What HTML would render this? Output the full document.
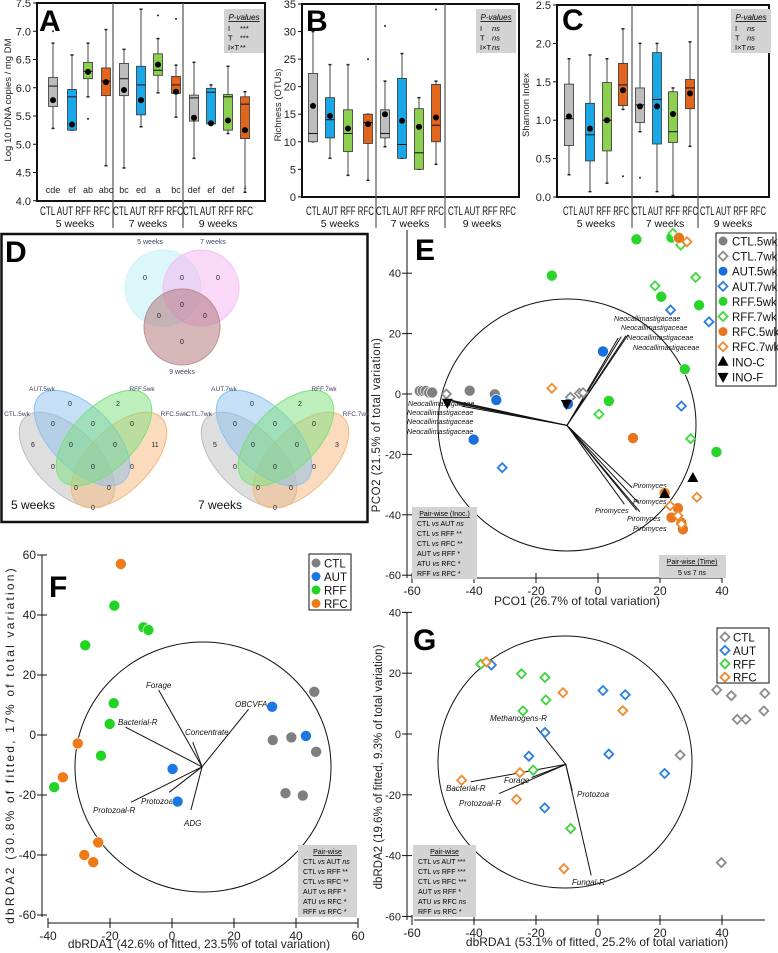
<!DOCTYPE html>
<html><head><meta charset="utf-8"><style>
body{margin:0;background:#fff}
svg{display:block;font-family:"Liberation Sans",Arial,sans-serif}
</style></head><body>
<svg id="fig" width="778" height="953" viewBox="0 0 778 953" xmlns="http://www.w3.org/2000/svg"></svg>
<script>
// ===== Panel A data =====
const boxCats = ['CTL','AUT','RFF','RFC'];
const weeks = ['5 weeks','7 weeks','9 weeks'];
const aTicks = [7.5,7.0,6.5,6.0,5.5,5.0,4.5,4.0];
// [low, q1, median, q3, high, mean]
const aStats = [
 [5.28,5.67,6.03,6.18,6.79,5.78],[5.25,5.25,5.84,5.97,6.58,5.35],[5.84,6.16,6.29,6.45,6.79,6.28],[4.62,5.86,6.12,6.35,7.03,6.10],
 [4.58,5.86,6.16,6.43,6.68,5.96],[5.31,5.52,6.05,6.38,7.39,5.78],[5.91,6.22,6.31,6.60,6.87,6.41],[5.48,5.90,6.05,6.20,6.40,5.93],
 [4.75,5.41,5.82,5.87,6.45,5.47],[5.36,5.36,5.92,5.99,6.05,5.37],[5.19,5.25,5.84,5.88,6.38,5.42],[4.15,5.10,5.71,5.84,5.93,5.25]];
const aOutliers = [[7.0],[],[5.45],[],[],[],[7.28],[7.22],[],[],[],[]];
const aLetters = ['cde','ef','ab','abc','bc','ed','a','bc','def','ef','def','f'];
// ===== Panel B data =====
const bTicks = [35,30,25,20,15,10,5,0];
const bStats = [
 [10,10,11.5,22.4,30,16.5],[7,10.7,14,18,24,14.7],[3.9,8.2,11.5,15.8,24,12.4],[3,9.7,13.5,15,15,13.2],
 [9.1,10.7,11.5,15.8,21,15],[7,7,9.5,21.5,26,13.8],[5,5,8,16,18,12.7],[5.9,10,13,20.4,21,14.4]];
const bOutliers = [[],[],[],[25],[31],[],[],[34]];
// ===== Panel C data =====
const cTicks = [2.5,2.0,1.5,1.0,0.5,0.0];
const cStats = [
 [0.29,0.67,1.02,1.47,1.80,1.05],[0.07,0.47,0.81,1.22,1.85,0.89],[0.18,0.60,1.00,1.49,1.80,1.00],[1.14,1.19,1.46,1.74,2.19,1.39],
 [0.85,0.97,1.20,1.42,2.00,1.18],[0.07,0.69,1.27,1.88,2.00,1.18],[0.02,0.71,0.85,1.37,1.42,1.08],[0.66,1.15,1.42,1.53,2.02,1.35]];
const cOutliers = [[],[],[],[0.27],[0.25],[],[],[2.5]];
// ===== Panel E data =====
const eGroups = ['CTL.5wk','CTL.7wk','AUT.5wk','AUT.7wk','RFF.5wk','RFF.7wk','RFC.5wk','RFC.7wk','INO-C','INO-F'];
const eX = [
 [-57.5,-56.5,-55.5,-54.5,-53.5,-41.4,-33.3],
 [-48.9,-8.9,-6,-4.8],
 [1.6,-32.8,-40.1,-9.7],
 [-30.9,23.4,35.8,26.9],
 [-14.9,12.4,23.7,20.4,32.6,28,3.5,38.2],
 [24.2,26.7,31.5,18.4,0.3,29.9],
 [26.1,11.3,21.5,25.8,23.7,26.9,27.4],
 [28.7,-14.9,31.9,23.3,25.8,26.9],
 [30.6,21.5],
 [-48.6,-10.2]];
const eY = [
 [1,1,1,0.5,0.5,1.1,-0.1],
 [0,-1.1,0.2,0.4],
 [14.1,-2,-15.1,-3.3],
 [-24.4,27.8,23.9,-4],
 [39.2,51.2,51.8,32.2,29.4,8.2,-2.3,-19.2],
 [53.2,49.3,38.6,35.8,-6.7,-14.8],
 [51.7,-14.6,-32.8,-37.8,-40.9,-42.6,-44.8],
 [50.4,1.9,-34.2,-37,-40.3,-43.1],
 [-27.8,-33.1],
 [-2.9,-3.3]];
const eTicks = [-60,-40,-20,0,20,40];
const eVecEndX = [6.5,7.5,9,9.7,-49,-47,-45.5,-44,11,13,12.5,8.5,13.5];
const eVecEndY = [18.5,19,19.3,19.6,-1.7,-2.5,-3.2,-4,-31,-36,-38.5,-36.5,-39];
// ===== Panel F data =====
const fGroups = ['CTL','AUT','RFF','RFC'];
const fX = [[45.9,32.5,38.5,46.5,36.6,42.2],[32.3,43.2,0.2,1.8],[-18.6,-9.2,-7.6,-28,-18.8,-20.1,-22.9,-38],[-16.5,-30.4,-35.2,-23.8,-28.3,-25.4]];
const fY = [[14.4,-1.7,-0.8,-5.6,-19.4,-20.2],[9.4,-0.3,-11.3,-22.2],[43.1,35.9,35,29.9,10.6,3.7,-6.9,-17.4],[57,-2.8,-14.1,-35.8,-40,-42.4]];
const fXTicks = [-40,-20,0,20,40,60];
const fYTicks = [60,40,20,0,-20,-40,-60];
const fVecNames = ['Forage','Bacterial-R','Concentrate','OBCVFA','Protozoal-R','Protozoa','ADG'];
const fVecX = [-4.3,-15,6.7,24.7,-13.2,-0.9,6.1];
const fVecY = [15,2.6,-2.4,8.6,-22.4,-19.1,-25];
// ===== Panel G data =====
const gX = [[38.3,43,53.8,44.9,47.7,53.5,26.5,39.8],[-34.4,1.6,8.8,-17.1,-22.3,3.5,21.5,-17.2],[-37.8,-24.7,-17.1,-16.8,-24.2,-20.9,-8.8],[-36,-11.3,8,-44,-25.2,-26.3,-11]];
const gY = [[14.5,12.6,13.4,4.8,4.8,7.6,-6.9,-42.3],[22.7,14.3,12.9,0.5,-7.3,-6.6,-13,-24.3],[23,19.8,18.6,11.2,7.6,-11.9,-31.1],[23.7,13.6,7.7,-15.2,-12.7,-21.5,-44.3]];
const gXTicks = [-60,-40,-20,0,20,40];
const gYTicks = [40,20,0,-20,-40,-60];
const gVecNames = ['Methanogens-R','Bacterial-R','Forage','Protozoal-R','Protozoa','Fungal-R'];
const gVecX = [-19.9,-41,-21.4,-31.9,-8.3,-2.2];
const gVecY = [2.2,-15.7,-14.3,-19.6,-18.7,-46.5];

const NS='http://www.w3.org/2000/svg';
const svg=document.getElementById('fig');
function el(tag,attrs,parent,text){const e=document.createElementNS(NS,tag);for(const k in attrs)e.setAttribute(k,attrs[k]);if(text!==undefined)e.textContent=text;(parent||svg).appendChild(e);return e;}
function txt(x,y,s,size,opt,parent){opt=opt||{};const a={x:x,y:y,'font-size':size,fill:opt.fill||'#000'};if(opt.anchor)a['text-anchor']=opt.anchor;if(opt.weight)a['font-weight']=opt.weight;if(opt.style)a['font-style']=opt.style;if(opt.transform)a.transform=opt.transform;if(opt.ls)a['letter-spacing']=opt.ls;if(opt.deco)a['text-decoration']=opt.deco;if(opt.tl){a.textLength=opt.tl;a.lengthAdjust='spacingAndGlyphs';}return el('text',a,parent,s);}
const boxColors=['#bdbdbd','#1aa7e8','#8dcf4e','#e2651d'];

// ===== Box panels =====
function boxPanel(cfg){
 const g=el('g',{});
 
 
 const yS=v=>cfg.y0+(cfg.vmax-v)*cfg.k;
 el('rect',{x:cfg.x0,y:cfg.top,width:cfg.x1-cfg.x0,height:cfg.bot-cfg.top,fill:'none',stroke:'#111','stroke-width':2},g);
 cfg.ticks.forEach(t=>{const y=yS(t);el('line',{x1:cfg.x0-4,x2:cfg.x0,y1:y,y2:y,stroke:'#111'},g);
  const tl=txt(cfg.x0-6,y+4,cfg.fmt(t),11,{anchor:'end',fill:'#222'},g);
  });
 const yt=txt(cfg.ytx,cfg.yty,cfg.ytitle,9.5,{anchor:'middle',transform:`rotate(-90 ${cfg.ytx} ${cfg.yty})`,fill:'#222'},g);
 
 cfg.dividers.forEach(d=>el('line',{x1:d,x2:d,y1:cfg.top,y2:228,stroke:'#555','stroke-width':1.2},g));
 cfg.stats.forEach((s,i)=>{
  const cx=cfg.xs[i],w=9,col=boxColors[i%4];
  const bg=el('g',{},g);
  
  
  el('line',{x1:cx,x2:cx,y1:yS(s[4]),y2:yS(s[0]),stroke:'#444','stroke-width':1},bg);
  el('line',{x1:cx-1.5,x2:cx+1.5,y1:yS(s[4]),y2:yS(s[4]),stroke:'#222','stroke-width':1.5},bg);
  el('line',{x1:cx-1.5,x2:cx+1.5,y1:yS(s[0]),y2:yS(s[0]),stroke:'#222','stroke-width':1.5},bg);
  el('rect',{x:cx-w/2,y:yS(s[3]),width:w,height:Math.max(0.5,yS(s[1])-yS(s[3])),fill:col,stroke:'#333','stroke-width':0.8},bg);
  el('line',{x1:cx-w/2,x2:cx+w/2,y1:yS(s[2]),y2:yS(s[2]),stroke:'#111','stroke-width':1},bg);
  el('circle',{cx:cx,cy:yS(s[5]),r:3,fill:'#000'},bg);
  (cfg.outliers[i]||[]).forEach(o=>el('circle',{cx:cx,cy:yS(o),r:1,fill:'#222'},bg));
  if(cfg.letters){txt(cx,193,cfg.letters[i],9,{anchor:'middle',fill:'#222'},bg);}
 });
 cfg.groupCenters.forEach((gc,i)=>{
  const l1=txt(gc-cfg.gw/2,215,'CTL AUT RFF RFC',11.5,{fill:'#111',tl:cfg.gw},g);
  
  const l2=txt(gc,227,weeks[i],10.5,{anchor:'middle',fill:'#111'},g);
  
 });
 const pl=el('g',{},g);
 
 
 el('rect',{x:cfg.px,y:9,width:40,height:44,fill:'#d3d3d3'},pl);
 txt(cfg.px+20,20,'P-values',8,{anchor:'middle',style:'italic',deco:'underline'},pl);
 cfg.pv.forEach((p,j)=>{txt(cfg.px+4,31+j*9.5,p[0],7.5,{},pl);txt(cfg.px+16,31+j*9.5,p[1],7.5,{style:p[1]==='ns'?'italic':'normal'},pl);});
 txt(cfg.lx,cfg.ly,cfg.letter,30,{weight:'bold'},g);
}
boxPanel({name:'panel-a',x0:37,x1:265,top:3,bot:201,y0:3,vmax:7.5,k:56.5,ticks:aTicks,fmt:t=>t.toFixed(1),
 ytitle:'Log 10 rDNA copies / mg DM',ytx:11,yty:100,dividers:[113,183],stats:aStats,outliers:aOutliers,letters:aLetters,
 xs:[53,72,88,106,124,141,158,176,194,211,228,245],groupCenters:[75,148,218],gw:70,px:224,pv:[['I','***'],['T','***'],['I×T','**']],letter:'A',lx:39,ly:31});
boxPanel({name:'panel-b',x0:302,x1:519,top:4,bot:197,y0:4,vmax:35,k:5.51,ticks:bTicks,fmt:t=>String(t),
 ytitle:'Richness (OTUs)',ytx:281,yty:105,dividers:[376,445],stats:bStats,outliers:bOutliers,letters:null,
 xs:[313,330,348,368,385,402,419,436],groupCenters:[340,410,482],gw:68,px:476,pv:[['I','ns'],['T','ns'],['I×T','ns']],letter:'B',lx:306,ly:31});
boxPanel({name:'panel-c',x0:557,x1:769,top:5,bot:197,y0:5,vmax:2.5,k:76.8,ticks:cTicks,fmt:t=>t.toFixed(1),
 ytitle:'Shannon Index',ytx:529,yty:105,dividers:[632,698],stats:cStats,outliers:cOutliers,letters:null,
 xs:[569,590,607,623,640,657,673,690],groupCenters:[596,665,733],gw:66,px:731,pv:[['I','ns'],['T','ns'],['I×T','ns']],letter:'C',lx:562,ly:30});

// ===== Panel D: Venn =====
(function(){
 const g=el('g',{});
 
 
 el('rect',{x:1.5,y:234,width:366,height:288,fill:'none',stroke:'#111','stroke-width':2.5},g);
 txt(5,262,'D',30,{weight:'bold'},g);
 const c3=[[163,288,'#bff0f4'],[201,288,'#f4b8f2'],[182,327,'#b37a80']];
 c3.forEach(c=>el('circle',{cx:c[0],cy:c[1],r:38,fill:c[2],'fill-opacity':0.55,stroke:c[2],'stroke-opacity':0.8},g));
 const lc='#444466';
 txt(150,244,'5 weeks',7,{anchor:'middle',fill:lc},g);txt(213,244,'7 weeks',7,{anchor:'middle',fill:lc},g);txt(182,374,'9 weeks',7,{anchor:'middle',fill:lc},g);
 [[145,280],[182,280],[218,280],[182,307],[159,318],[205,318],[182,344]].forEach(p=>txt(p[0],p[1],'0',7,{anchor:'middle',fill:'#222'},g));
 function venn4(ox,labels,nums,title){
  const sets=[[ox-26,460,45,'#bdbdbd'],[ox+26,460,-45,'#f5b77e'],[ox-11,438,45,'#8cc0ee'],[ox+11,438,-45,'#7be07b']];
  sets.forEach(s=>el('ellipse',{cx:s[0],cy:s[1],rx:60,ry:31,transform:`rotate(${s[2]} ${s[0]} ${s[1]})`,fill:s[3],'fill-opacity':0.5,stroke:s[3]},g));
  const lp=[[-51,391],[49,391],[-76,416],[81,416]];
  labels.forEach((l,i)=>txt(ox+lp[i][0],lp[i][1],l,6.5,{anchor:'middle',fill:lc},g));
  const np=[[-23,406],[25,406],[-40,426],[0,426],[39,426],[-60,447],[-22,447],[22,447],[62,447],[-40,469],[0,469],[39,469],[-17,490],[16,490],[0,510]];
  np.forEach((p,i)=>txt(ox+p[0],p[1],nums[i],7,{anchor:'middle',fill:'#222'},g));
  txt(title[1],509,title[0],12,{fill:'#111'},g);
 }
 venn4(93,['AUT.5wk','RFF.5wk','CTL.5wk','RFC.5wk'],['0','2','0','0','0','6','0','0','11','0','0','0','0','0','0'],['5 weeks',11]);
 venn4(275,['AUT.7wk','RFF.7wk','CTL.7wk','RFC.7wk'],['0','2','0','0','0','5','0','0','3','0','0','0','0','0','0'],['7 weeks',198]);
})();

// ===== Scatter helpers =====
function marker(g,shape,col,x,y,name){
 let m;
 if(shape==='dot')m=el('circle',{cx:x,cy:y,r:5.5,fill:col,stroke:'#fff','stroke-width':0.6},g);
 else if(shape==='sdot')m=el('circle',{cx:x,cy:y,r:4.5,fill:col},g);
 else if(shape==='dia')m=el('path',{d:`M${x} ${y-4.5}L${x+4.5} ${y}L${x} ${y+4.5}L${x-4.5} ${y}Z`,fill:'#fff',stroke:col,'stroke-width':1.8},g);
 else if(shape==='up')m=el('path',{d:`M${x} ${y-6}L${x+5.5} ${y+4}L${x-5.5} ${y+4}Z`,fill:'#000'},g);
 else m=el('path',{d:`M${x} ${y+6}L${x+5.5} ${y-4}L${x-5.5} ${y-4}Z`,fill:'#000'},g);
 
 
 return m;
}
function axes(g,cfg){
 el('line',{x1:cfg.ax,x2:cfg.ax,y1:cfg.yTop,y2:cfg.yBot,stroke:'#111'},g);
 el('line',{x1:cfg.xL,x2:cfg.xR,y1:cfg.axY,y2:cfg.axY,stroke:'#111'},g);
 cfg.xticks.forEach(t=>{const x=cfg.sx(t);el('line',{x1:x,x2:x,y1:cfg.axY-5,y2:cfg.axY+5,stroke:'#111'},g);
  const l=txt(x,cfg.axY+17,String(t),12,{anchor:'middle',fill:'#222'},g);});
 cfg.yticks.forEach(t=>{const y=cfg.sy(t);el('line',{x1:cfg.ax-5,x2:cfg.ax+5,y1:y,y2:y,stroke:'#111'},g);
  const l=txt(cfg.ax-6,y+4,String(t),cfg.ytfs||12,{anchor:'end',fill:'#222'},g);});
 const xt=txt(cfg.xtx,cfg.xty,cfg.xtitle,12,{anchor:'middle',fill:'#222'},g);
 const yt=txt(cfg.ytx,cfg.yty,cfg.ytitle,cfg.ytsize||12,{anchor:'middle',fill:'#222',ls:cfg.yls||0,transform:`rotate(-90 ${cfg.ytx} ${cfg.yty})`},g);
}
function pairBox(g,x,y,w,title,lines){
 el('rect',{x:x,y:y,width:w,height:12+lines.length*10,fill:'#d3d3d3'},g);
 txt(x+w/2,y+9,title,7,{anchor:'middle',deco:'underline'},g);
 lines.forEach((l,i)=>{const t=el('text',{x:x+5,y:y+19+i*10,'font-size':7},g);
  el('tspan',{},t,l[0]+' ');el('tspan',{'font-style':'italic'},t,'vs');el('tspan',{},t,' '+l[1]+' ');el('tspan',{'font-style':l[2]==='ns'?'italic':'normal'},t,l[2]);});
}

// ===== Panel E =====
(function(){
 const g=el('g',{});
 
 
 const sx=v=>598+v*3.1, sy=v=>394-v*3.02;
 axes(g,{ax:407,yTop:230,yBot:578,xL:412,xR:722,axY:578,sx:sx,sy:sy,xticks:eTicks,yticks:eTicks.slice().reverse(),ytfs:11,
  xtitle:'PCO1 (26.7% of total variation)',xtx:577,xty:605,ytitle:'PCO2 (21.5% of total variation)',ytx:380,yty:425,yls:0.5,ytsize:11.5});
 txt(415,260,'E',30,{weight:'bold'},g);
 el('ellipse',{cx:567,cy:425,rx:129,ry:126,fill:'none',stroke:'#111'},g);
 const ox=sx(-10),oy=sy(-10.4);
 eVecEndX.forEach((x,i)=>el('line',{x1:ox,y1:oy,x2:sx(x),y2:sy(eVecEndY[i]),stroke:'#111','stroke-width':1},g));
 const it={style:'italic',fill:'#111'};
 [[614,321],[621,330],[627,340],[633,350]].forEach(p=>txt(p[0],p[1],'Neocallimastigaceae',7.2,it,g));
 [[408,406],[407,415],[407,424],[407,434]].forEach(p=>txt(p[0],p[1],'Neocallimastigaceae',7.2,it,g));
 [[633,488],[633,504],[595,513],[627,521],[633,531]].forEach(p=>txt(p[0],p[1],'Piromyces',7.2,it,g));
 const shapes=['dot','dia','dot','dia','dot','dia','dot','dia','up','down'];
 const cols=['#808080','#8c8c8c','#1a6fd8','#2a7fe0','#2ad42a','#3bdc3b','#e8761e','#f08a2e','#000','#000'];
 eGroups.forEach((gn,i)=>eX[i].forEach((x,j)=>marker(g,shapes[i],cols[i],sx(x),sy(eY[i][j]),'point-'+gn.toLowerCase())));
 const lg=el('g',{},g);
 
 
 el('rect',{x:716,y:233,width:60,height:153,fill:'#fff',stroke:'#111'},lg);
 eGroups.forEach((gn,i)=>{const y=241+i*15.1;marker(lg,shapes[i]==='dot'?'sdot':shapes[i],cols[i],723,y,'legend-marker');txt(732,y+4.5,gn,11.5,{fill:'#111'},lg);});
 pairBox(g,412,507,65,'Pair-wise (Inoc.)',[['CTL','AUT','ns'],['CTL','RFF','**'],['CTL','RFC','**'],['AUT','RFF','*'],['ATU','RFC','*'],['RFF','RFC','*']]);
 el('rect',{x:659,y:555,width:67,height:23,fill:'#d3d3d3'},g);
 txt(692,564,'Pair-wise (Time)',7,{anchor:'middle',deco:'underline'},g);
 const t=el('text',{x:692,y:575,'font-size':7,'text-anchor':'middle'},g);el('tspan',{},t,'5 ');el('tspan',{'font-style':'italic'},t,'vs');el('tspan',{},t,' 7 ');el('tspan',{'font-style':'italic'},t,'ns');
})();

// ===== Panel F =====
(function(){
 const g=el('g',{});
 
 
 const sx=v=>172+v*3.1, sy=v=>735-v*3.0;
 axes(g,{ax:42,yTop:555,yBot:917,xL:48,xR:358,axY:923,sx:sx,sy:sy,xticks:fXTicks,yticks:fYTicks,
  xtitle:'dbRDA1 (42.6% of fitted, 23.5% of total variation)',xtx:199,xty:948,ytitle:'dbRDA2 (30.8% of fitted, 17% of total variation)',ytx:14,yty:745,yls:2.2});
 txt(49,597,'F',30,{weight:'bold'},g);
 el('ellipse',{cx:203,cy:767,rx:128,ry:125,fill:'none',stroke:'#111'},g);
 const ox=sx(9.7),oy=sy(-10.6);
 fVecNames.forEach((n,i)=>el('line',{x1:ox,y1:oy,x2:sx(fVecX[i]),y2:sy(fVecY[i]),stroke:'#111'},g));
 const it={style:'italic',fill:'#111'};
 [['Forage',146,688],['Bacterial-R',118,725],['Concentrate',185,735],['OBCVFA',235,707],['Protozoal-R',93,813],['Protozoa',141,804],['ADG',184,826]].forEach(l=>txt(l[1],l[2],l[0],8,it,g));
 const cols=['#7f7f7f','#1a78e0','#22d422','#f07a18'];
 fGroups.forEach((gn,i)=>fX[i].forEach((x,j)=>marker(g,'dot',cols[i],sx(x),sy(fY[i][j]),'point-'+gn.toLowerCase())));
 const lg=el('g',{},g);
 
 
 el('rect',{x:309,y:554,width:42,height:56,fill:'#fff',stroke:'#111'},lg);
 fGroups.forEach((gn,i)=>{const y=563+i*13.5;marker(lg,'sdot',cols[i],316,y,'legend-marker');txt(324,y+4.5,gn,11.5,{fill:'#111'},lg);});
 pairBox(g,298,845,59,'Pair-wise',[['CTL','AUT','ns'],['CTL','RFF','**'],['CTL','RFC','**'],['AUT','RFF','*'],['ATU','RFC','*'],['RFF','RFC','*']]);
})();

// ===== Panel G =====
(function(){
 const g=el('g',{});
 
 
 const sx=v=>598+v*3.1, sy=v=>734-v*3.04;
 axes(g,{ax:407,yTop:612,yBot:920,xL:414,xR:765,axY:920,sx:sx,sy:sy,xticks:gXTicks,yticks:gYTicks,ytfs:11,
  xtitle:'dbRDA1 (53.1% of fitted, 25.2% of total variation)',xtx:597,xty:946,ytitle:'dbRDA2 (19.6% of fitted, 9.3% of total variation)',ytx:382,yty:767,ytsize:11.5});
 txt(413,650,'G',30,{weight:'bold'},g);
 el('ellipse',{cx:565,cy:762,rx:127,ry:126,fill:'none',stroke:'#111'},g);
 const ox=sx(-10.4),oy=sy(-10);
 gVecNames.forEach((n,i)=>el('line',{x1:ox,y1:oy,x2:sx(gVecX[i]),y2:sy(gVecY[i]),stroke:'#111'},g));
 const it={style:'italic',fill:'#111'};
 [['Methanogens-R',490,721],['Bacterial-R',446,791],['Forage',504,783],['Protozoal-R',459,806],['Protozoa',577,797],['Fungal-R',572,885]].forEach(l=>txt(l[1],l[2],l[0],8,it,g));
 const cols=['#8c8c8c','#2a7fe0','#3bd43b','#f08a2e'];
 fGroups.forEach((gn,i)=>gX[i].forEach((x,j)=>marker(g,'dia',cols[i],sx(x),sy(gY[i][j]),'point-'+gn.toLowerCase())));
 const lg=el('g',{},g);
 
 
 el('rect',{x:717,y:628,width:52,height:55,fill:'#fff',stroke:'#111'},lg);
 fGroups.forEach((gn,i)=>{const y=637+i*13.4;marker(lg,'dia',cols[i],725,y,'legend-marker');txt(733,y+4.5,gn,11.5,{fill:'#111'},lg);});
 pairBox(g,413,845,63,'Pair-wise',[['CTL','AUT','***'],['CTL','RFF','***'],['CTL','RFC','***'],['AUT','RFF','*'],['ATU','RFC','ns'],['RFF','RFC','*']]);
})();
</script>
</body></html>
